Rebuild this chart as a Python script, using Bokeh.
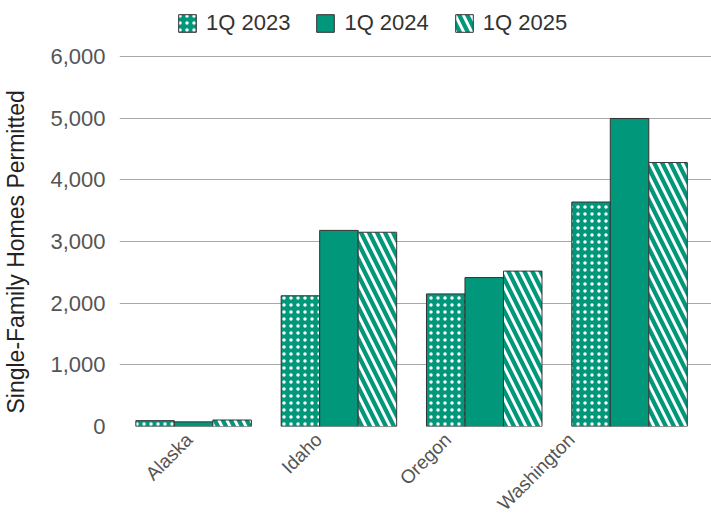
from bokeh.plotting import figure
from bokeh.models import (ColumnDataSource, Legend, LegendItem, NumeralTickFormatter,
                          FixedTicker, Range1d)
from bokeh.transform import dodge
from bokeh.embed import file_html
from bokeh.resources import INLINE

states = ["Alaska", "Idaho", "Oregon", "Washington"]
series = ["1Q 2023", "1Q 2024", "1Q 2025"]
q1_2023 = [95, 2120, 2150, 3640]
q1_2024 = [75, 3180, 2415, 4995]
q1_2025 = [105, 3150, 2520, 4280]
y_ticks = [0, 1000, 2000, 3000, 4000, 5000, 6000]

# layout constants: shift of each rotated category label from its group centre
LABEL_SHIFT = [-0.03, -0.14, -0.25, -0.40]

GREEN = "#00977a"
FONT = "Liberation Sans"
FRAME_W, FRAME_H = 592, 426

pos = list(range(len(states)))
src = ColumnDataSource(dict(pos=pos, a=q1_2023, b=q1_2024, c=q1_2025))

p = figure(x_range=Range1d(-0.51, 3.564), y_range=Range1d(0, 6908),
           frame_width=FRAME_W, frame_height=FRAME_H, output_backend="svg", toolbar_location=None,
           min_border_left=118, min_border_right=1, min_border_top=0, min_border_bottom=0)

w = 0.265
r1 = p.vbar(x=dodge("pos", -w), top="a", width=w, source=src,
            fill_color=GREEN, line_color="#333333", line_width=1,
            hatch_pattern="dot", hatch_color="white", hatch_scale=7, hatch_weight=3)
r2 = p.vbar(x=dodge("pos", 0), top="b", width=w, source=src,
            fill_color=GREEN, line_color="#333333", line_width=1)
r3 = p.vbar(x=dodge("pos", w), top="c", width=w, source=src,
            fill_color="white", line_color="#333333", line_width=1,
            hatch_pattern="left_diagonal_line", hatch_color=GREEN, hatch_scale=16, hatch_weight=4.2)

legend = Legend(items=[LegendItem(label=series[0], renderers=[r1]),
                       LegendItem(label=series[1], renderers=[r2]),
                       LegendItem(label=series[2], renderers=[r3])],
                orientation="horizontal", location=(57, 390),
                label_text_font=FONT, label_text_font_size="22px", label_text_color="#333333",
                glyph_width=22, glyph_height=22, spacing=24, label_standoff=8,
                border_line_color=None, background_fill_alpha=0, padding=0, margin=0)
p.add_layout(legend, "center")

p.yaxis.ticker = FixedTicker(ticks=y_ticks)
p.yaxis.formatter = NumeralTickFormatter(format="0,0")
p.yaxis.axis_line_color = None
p.yaxis.major_tick_line_color = None
p.yaxis.minor_tick_line_color = None
p.yaxis.major_label_text_font = FONT
p.yaxis.major_label_text_font_size = "22px"
p.yaxis.major_label_text_color = "#555555"
p.yaxis.major_label_standoff = 8
# trailing no-break spaces move the visible title down to the centre of the gridded area
p.yaxis.axis_label = "Single-Family Homes Permitted" + "\u00a0" * 12
p.yaxis.axis_label_text_font = FONT
p.yaxis.axis_label_text_font_size = "23px"
p.yaxis.axis_label_text_font_style = "normal"
p.yaxis.axis_label_text_color = "#222222"
p.yaxis.axis_label_standoff = 18

label_ticks = [i + s for i, s in zip(pos, LABEL_SHIFT)]
p.xaxis.ticker = FixedTicker(ticks=label_ticks)
p.xaxis.major_label_overrides = {t: name for t, name in zip(label_ticks, states)}
p.xaxis.axis_line_color = None
p.xaxis.major_tick_line_color = None
p.xaxis.minor_tick_line_color = None
p.xaxis.major_label_orientation = 0.785
p.xaxis.major_label_text_font = FONT
p.xaxis.major_label_text_font_size = "19px"
p.xaxis.major_label_text_color = "#555555"
p.xaxis.major_label_standoff = 4

p.xgrid.grid_line_color = None
p.ygrid.grid_line_color = "#aaaaaa"
p.ygrid.grid_line_width = 1
p.outline_line_color = None

open("out.html", "w").write(file_html(p, INLINE))
